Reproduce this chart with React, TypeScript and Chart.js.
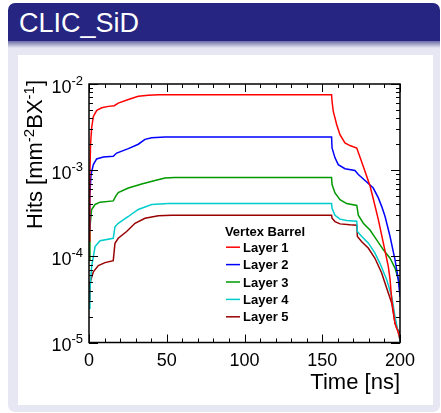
import { useEffect, useRef } from 'react';
import { Chart, registerables } from 'chart.js';

Chart.register(...registerables);

const blockTitle = 'CLIC_SiD';
const legendTitle = 'Vertex Barrel';
const layerNames = ['Layer 1', 'Layer 2', 'Layer 3', 'Layer 4', 'Layer 5'];
const layerColors = ['#ff0000', '#0000ff', '#009900', '#00cccc', '#990000'];

const layer1Time = [0, 0.5, 1, 1.7, 2.8, 5, 8.2, 12.4, 16.3, 18.8, 25.3, 31.7, 38.1, 45, 156, 156.3, 157.1, 159.3, 161.4, 164.6, 167.8, 172.2, 176.4, 180.7, 183, 186, 189.3, 192.5, 193.6, 194.7, 196.8, 198.9, 200];
const layer1Hits = [1.5e-4, 8e-4, 2.0e-3, 3.1e-3, 4.2e-3, 4.95e-3, 5.3e-3, 5.5e-3, 5.6e-3, 6.0e-3, 6.6e-3, 7.2e-3, 7.4e-3, 7.5e-3, 7.5e-3, 6.3e-3, 4.8e-3, 3.37e-3, 2.58e-3, 2.07e-3, 1.93e-3, 1.81e-3, 1.1e-3, 6.6e-4, 4.5e-4, 2.7e-4, 1.42e-4, 7.6e-5, 5.4e-5, 3.1e-5, 1.67e-5, 1.3e-5, 1.1e-5];

const layer2Time = [0, 0.5, 1.3, 2.8, 4.9, 9.2, 15.6, 17.8, 25.3, 31.7, 36, 40.3, 48.9, 156, 156.3, 158.2, 160.3, 164.6, 171, 173.2, 178.6, 182.8, 186, 188.2, 190.4, 193.6, 196.8, 198.9, 200];
const layer2Hits = [2.1e-4, 5e-4, 8.9e-4, 1.16e-3, 1.35e-3, 1.42e-3, 1.45e-3, 1.58e-3, 1.78e-3, 2.0e-3, 2.28e-3, 2.38e-3, 2.43e-3, 2.43e-3, 1.81e-3, 1.39e-3, 1.16e-3, 1.04e-3, 9.9e-4, 8.9e-4, 7.3e-4, 6.2e-4, 4.8e-4, 3.8e-4, 2.9e-4, 1.7e-4, 9.1e-5, 5.4e-5, 3.4e-5];

const layer3Time = [0, 0.6, 1.7, 3.9, 7.1, 15.6, 17.2, 18.8, 25.3, 33.9, 42.4, 48.9, 55.3, 156, 156.3, 158.2, 161.4, 165.7, 172.2, 173.2, 176.4, 180.7, 185, 189.3, 193.6, 196.8, 198.9, 200];
const layer3Hits = [9e-5, 2.2e-4, 3.5e-4, 4.0e-4, 4.25e-4, 4.4e-4, 5.0e-4, 5.5e-4, 6.2e-4, 6.9e-4, 7.6e-4, 8.1e-4, 8.2e-4, 8.2e-4, 6.8e-4, 5.44e-4, 4.55e-4, 4.1e-4, 3.9e-4, 3.0e-4, 2.42e-4, 2.02e-4, 1.55e-4, 1.19e-4, 9.5e-5, 7.3e-5, 5.4e-5, 4.5e-5];

const layer4Time = [0, 0.6, 1.7, 3.9, 7.1, 15.6, 16.7, 18.8, 25.3, 31.7, 40.3, 51, 156, 156.3, 158.2, 161.4, 165.7, 172.2, 172.6, 175.4, 179.7, 183.9, 187.1, 191.4, 194.7, 196.8, 198.9, 200];
const layer4Hits = [2.5e-5, 4.1e-5, 7.6e-5, 1.3e-4, 1.52e-4, 1.62e-4, 2.2e-4, 2.42e-4, 2.9e-4, 3.5e-4, 4.0e-4, 4.1e-4, 4.1e-4, 3.6e-4, 3.0e-4, 2.7e-4, 2.6e-4, 2.55e-4, 1.94e-4, 1.7e-4, 1.42e-4, 1.09e-4, 8.3e-5, 5.4e-5, 3.4e-5, 2.0e-5, 1.3e-5, 1.05e-5];

const layer5Time = [0, 0.6, 2.8, 6, 10.3, 15.6, 16.7, 18.8, 24.2, 29.6, 36, 44.6, 53.2, 156, 156.3, 158.2, 161.4, 167.8, 172.2, 172.6, 175.4, 179.7, 183.9, 188.2, 191.4, 194.7, 196.8, 197.9, 200];
const layer5Hits = [3.2e-5, 4.9e-5, 6.6e-5, 7.8e-5, 8.45e-5, 8.9e-5, 1.42e-4, 1.62e-4, 1.94e-4, 2.42e-4, 2.77e-4, 2.95e-4, 3.0e-4, 3.0e-4, 2.77e-4, 2.53e-4, 2.38e-4, 2.32e-4, 2.3e-4, 1.7e-4, 1.48e-4, 1.24e-4, 9.5e-5, 6.4e-5, 4.3e-5, 2.86e-5, 1.67e-5, 1.47e-5, 1.3e-5];

const layerTimes = [layer1Time, layer2Time, layer3Time, layer4Time, layer5Time];
const layerHits = [layer1Hits, layer2Hits, layer3Hits, layer4Hits, layer5Hits];

const xMin = 0;
const xMax = 200;
const xTickValues = [0, 50, 100, 150, 200];
const xTickLabels = ['0', '50', '100', '150', '200'];
const xMinorStep = 10;
const yMin = 1e-5;
const yMax = 1e-2;
const yTickValues = [1e-2, 1e-3, 1e-4, 1e-5];
const yTickExponents = ['-2', '-3', '-4', '-5'];
const xTitle = 'Time [ns]';
const yTitleParts = [
  { text: 'Hits [mm', sup: false },
  { text: '-2', sup: true },
  { text: 'BX', sup: false },
  { text: '-1', sup: true },
  { text: ']', sup: false },
];

const FONT = '"Liberation Sans", Arial, Helvetica, sans-serif';

const rootPlugin = {
  id: 'rootStyle',
  afterDatasetsDraw(chart: any) {
    const { ctx, chartArea: a, scales } = chart;
    const xs = scales.x;
    const ys = scales.y;
    ctx.save();
    ctx.strokeStyle = '#000';
    ctx.fillStyle = '#000';
    ctx.lineWidth = 1;
    const seg = (x1: number, y1: number, x2: number, y2: number) => {
      ctx.beginPath();
      ctx.moveTo(x1, y1);
      ctx.lineTo(x2, y2);
      ctx.stroke();
    };
    for (let t = xMin; t <= xMax + 1e-9; t += xMinorStep) {
      const px = Math.round(xs.getPixelForValue(t)) + 0.5;
      const major = xTickValues.includes(t);
      const len = major ? 8 : 4;
      seg(px, a.bottom, px, a.bottom - len);
      seg(px, a.top, px, a.top + len);
    }
    for (let e = -5; e <= -2; e++) {
      for (let m = 1; m <= 9; m++) {
        const v = m * Math.pow(10, e);
        if (v > yMax * 1.0001) continue;
        const py = Math.round(ys.getPixelForValue(v)) + 0.5;
        const len = m === 1 ? 9 : 4;
        seg(a.left, py, a.left + len, py);
        seg(a.right, py, a.right - len, py);
      }
    }
    ctx.lineWidth = 1.5;
    ctx.strokeRect(a.left, a.top, a.right - a.left, a.bottom - a.top);

    ctx.font = `18px ${FONT}`;
    ctx.textAlign = 'center';
    ctx.textBaseline = 'alphabetic';
    xTickValues.forEach((v, i) => {
      ctx.fillText(xTickLabels[i], xs.getPixelForValue(v), a.bottom + 23);
    });
    yTickValues.forEach((v, i) => {
      const py = ys.getPixelForValue(v);
      ctx.font = `13px ${FONT}`;
      const ew = ctx.measureText(yTickExponents[i]).width;
      const right = a.left - 6;
      ctx.textAlign = 'right';
      ctx.fillText(yTickExponents[i], right, py + 0.5);
      ctx.font = `18px ${FONT}`;
      ctx.fillText('10', right - ew, py + 8.5);
    });
    ctx.font = `22px ${FONT}`;
    ctx.textAlign = 'right';
    ctx.fillText(xTitle, a.right, a.bottom + 46);
    ctx.save();
    ctx.translate(42, a.top - 4);
    ctx.rotate(-Math.PI / 2);
    let widths = 0;
    const mainF = `22px ${FONT}`;
    const supF = `15px ${FONT}`;
    yTitleParts.forEach((p) => {
      ctx.font = p.sup ? supF : mainF;
      widths += ctx.measureText(p.text).width;
    });
    let cx = -widths;
    ctx.textAlign = 'left';
    yTitleParts.forEach((p) => {
      ctx.font = p.sup ? supF : mainF;
      ctx.fillText(p.text, cx, p.sup ? -8 : 0);
      cx += ctx.measureText(p.text).width;
    });
    ctx.restore();

    ctx.font = `bold 13px ${FONT}`;
    ctx.textAlign = 'center';
    ctx.fillText(legendTitle, 265, 236);
    ctx.textAlign = 'left';
    layerNames.forEach((name, i) => {
      const by = 251.7 + i * 17.4;
      ctx.strokeStyle = layerColors[i];
      ctx.lineWidth = 1.5;
      seg(226, by - 4.5, 240, by - 4.5);
      ctx.fillStyle = '#000';
      ctx.fillText(name, 243, by);
    });
    ctx.restore();
  },
};

function ChartBox() {
  const ref = useRef<HTMLCanvasElement | null>(null);
  useEffect(() => {
    if (!ref.current) return;
    const chart = new Chart(ref.current, {
      type: 'line',
      data: {
        datasets: layerNames.map((name, i) => ({
          label: name,
          data: layerTimes[i].map((t, j) => ({ x: t, y: layerHits[i][j] })),
          borderColor: layerColors[i],
          backgroundColor: layerColors[i],
          borderWidth: 1.5,
          pointRadius: 0,
          tension: 0,
          fill: false,
        })),
      },
      options: {
        animation: false,
        responsive: false,
        devicePixelRatio: 1,
        layout: { padding: { left: 89, right: 41, top: 84, bottom: 70.5 } },
        plugins: { legend: { display: false }, tooltip: { enabled: false } },
        scales: {
          x: { type: 'linear', min: xMin, max: xMax, display: false },
          y: { type: 'logarithmic', min: yMin, max: yMax, display: false },
        },
      },
      plugins: [rootPlugin],
    });
    return () => chart.destroy();
  }, []);
  return <canvas ref={ref} width={441} height={413} style={{ position: 'absolute', left: 0, top: 0 }} />;
}

export default function App() {
  return (
    <div style={{ position: 'absolute', left: 0, top: 0, width: 441, height: 413, background: '#ffffff', overflow: 'hidden' }}>
      <div
        style={{
          position: 'absolute', left: 8, top: 40, width: 432, height: 372,
          background: '#e7e7f3', borderRadius: '0 0 7px 7px',
        }}
      />
      <div
        style={{
          position: 'absolute', left: 8, top: 40, width: 432, height: 8,
          background: 'linear-gradient(#5a5a9c, #e7e7f3)',
        }}
      />
      <div
        style={{
          position: 'absolute', left: 8, top: 3, width: 432, height: 38,
          background: '#262682', borderRadius: '7px 7px 0 0',
          color: '#ffffff', fontFamily: FONT, fontSize: 27, lineHeight: '40px',
          paddingLeft: 11, boxSizing: 'border-box', overflow: 'hidden',
        }}
      >
        {blockTitle}
      </div>
      <div style={{ position: 'absolute', left: 18, top: 55, width: 415, height: 350, background: '#ffffff' }} />
      <ChartBox />
    </div>
  );
}
